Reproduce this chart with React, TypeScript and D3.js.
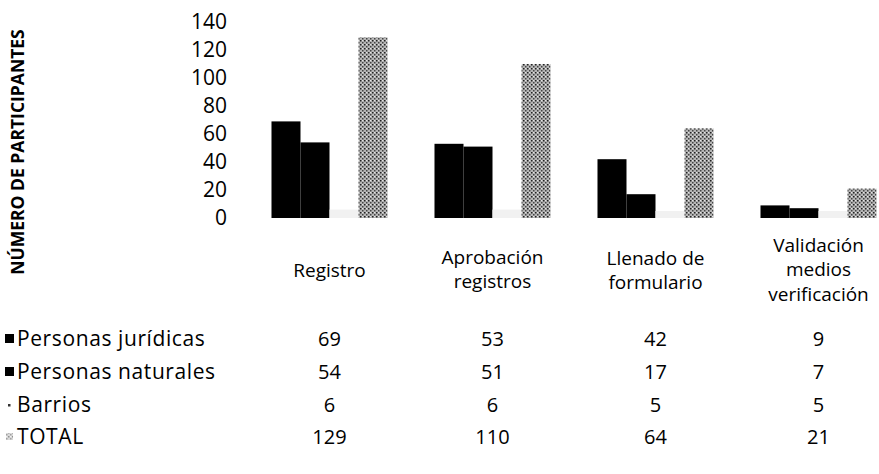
import React from "react";
import * as d3 from "d3";

const categories: string[][] = [
  ["Registro"],
  ["Aprobación", "registros"],
  ["Llenado de", "formulario"],
  ["Validación", "medios", "verificación"],
];
const seriesNames = ["Personas jurídicas", "Personas naturales", "Barrios", "TOTAL"];
const juridicas = [69, 53, 42, 9];
const naturales = [54, 51, 17, 7];
const barrios = [6, 6, 5, 5];
const total = [129, 110, 64, 21];
const yTicks = [0, 20, 40, 60, 80, 100, 120, 140];

const seriesValues = [juridicas, naturales, barrios, total];
const FONT = "'Open Sans', 'Noto Sans', sans-serif";

export default function App() {
  const W = 879;
  const H = 474;
  const catKeys = categories.map((c) => c.join(" "));
  const x0 = d3.scaleBand<string>().domain(catKeys).range([248, 900]).padding(0);
  const x1 = d3
    .scaleBand<string>()
    .domain(seriesNames)
    .range([0, x0.bandwidth()])
    .paddingInner(0)
    .paddingOuter(0.81);
  const y = d3.scaleLinear().domain([0, 140]).range([218, 22]);

  const fills = ["#000", "#000", "#f1f1f1", "url(#stipple)"];
  const rowY = [339, 372, 405, 437];
  const labelLineStart = [270, 257, 258, 245];

  return (
    <svg
      width={W}
      height={H}
      style={{ position: "absolute", left: 0, top: 0, background: "#fff" }}
      fontFamily={FONT}
    >
      <defs>
        <pattern id="stipple" width="4" height="4" patternUnits="userSpaceOnUse">
          <rect width="4" height="4" fill="#b4b4b4" />
          <rect x="0" y="0" width="1.5" height="1.5" fill="#222" />
          <rect x="2" y="2" width="1.5" height="1.5" fill="#444" />
          <rect x="2" y="0" width="1" height="1" fill="#e6e6e6" />
        </pattern>
      </defs>

      {/* Y axis title */}
      <text
        transform={`translate(24, 152) rotate(-90)`}
        textAnchor="middle"
        fontWeight="bold"
        fontSize={17.5}
        fill="#000"
      >
        NÚMERO DE PARTICIPANTES
      </text>

      {/* Y tick labels */}
      {yTicks.map((t) => (
        <text
          key={t}
          x={227}
          y={y(t)}
          dy="0.35em"
          textAnchor="end"
          fontSize={21}
          fill="#000"
        >
          {t}
        </text>
      ))}

      {/* Bars */}
      {catKeys.map((ck, ci) => (
        <g key={ck} transform={`translate(${x0(ck)},0)`}>
          {seriesNames.map((s, si) => {
            const v = seriesValues[si][ci];
            return (
              <rect
                key={s}
                x={x1(s)}
                y={y(v)}
                width={x1.bandwidth()}
                height={y(0) - y(v)}
                fill={fills[si]}
              />
            );
          })}
        </g>
      ))}

      {/* Category labels */}
      {categories.map((lines, ci) => {
        const cx = (x0(catKeys[ci]) as number) + x0.bandwidth() / 2;
        return (
          <text key={ci} textAnchor="middle" fontSize={19} fill="#000">
            {lines.map((ln, li) => (
              <tspan key={li} x={cx} y={labelLineStart[ci] + li * 24.5} dy="0.35em">
                {ln}
              </tspan>
            ))}
          </text>
        );
      })}

      {/* Data table */}
      {seriesNames.map((s, si) => (
        <g key={s}>
          {si === 0 || si === 1 ? (
            <rect x={5} y={rowY[si] - 5} width={9} height={9} fill="#000" />
          ) : si === 2 ? (
            <rect x={8} y={rowY[si] - 1} width={2.5} height={2.5} fill="#333" />
          ) : (
            <rect x={6} y={rowY[si] - 4} width={7} height={7} fill="url(#stipple)" opacity={0.5} />
          )}
          <text x={17} y={rowY[si]} dy="0.35em" fontSize={21} letterSpacing={0.6} fill="#000">
            {s}
          </text>
          {seriesValues[si].map((v, ci) => (
            <text
              key={ci}
              x={(x0(catKeys[ci]) as number) + x0.bandwidth() / 2}
              y={rowY[si]}
              dy="0.35em"
              textAnchor="middle"
              fontSize={20}
              fill="#000"
            >
              {v}
            </text>
          ))}
        </g>
      ))}
    </svg>
  );
}
